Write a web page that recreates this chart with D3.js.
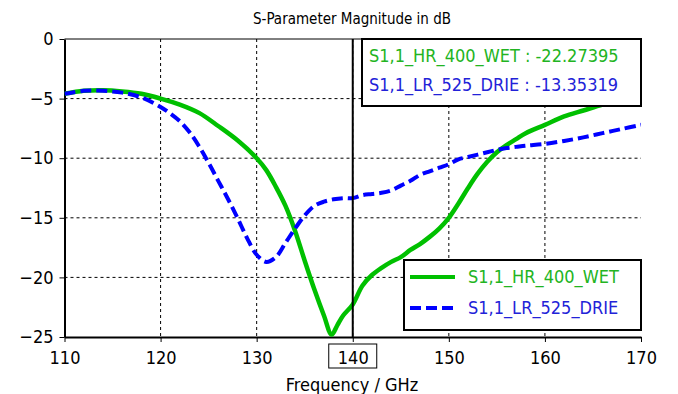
<!DOCTYPE html>
<html>
<head>
<meta charset="utf-8">
<script src="https://cdn.jsdelivr.net/npm/d3@7"></script>
<style>
body { margin: 0; background: #fff; }
svg { display: block; }
</style>
</head>
<body>
<svg id="chart"></svg>
<script>
var width = 678
var height = 394
var fontFam = "'DejaVu Sans Condensed', 'DejaVu Sans', sans-serif"

// data
var freqHR = [110, 112, 114, 116, 118, 120, 122, 124, 126, 128, 130, 131, 132, 133, 134, 135, 136, 137, 137.8, 138.4, 139, 140,
              141, 142, 143, 144, 145, 146, 147, 148, 149, 150, 151, 152, 153, 154, 155, 156, 157, 158, 160, 162, 164, 166, 168, 170]
var s11HR = [-4.6, -4.35, -4.3, -4.4, -4.6, -5.0, -5.5, -6.2, -7.3, -8.5, -10.0, -11.0, -12.4, -14.0, -16.1, -18.6, -21.0, -23.2, -24.8, -24.0, -23.2, -22.27,
             -20.7, -19.8, -19.2, -18.7, -18.3, -17.7, -17.2, -16.6, -15.9, -15.0, -13.8, -12.5, -11.3, -10.3, -9.5, -8.9, -8.4, -7.9, -7.2, -6.5, -6.0, -5.5, -5.1, -4.8]

var freqLR = [110, 112, 114, 116, 118, 120, 121, 122, 123, 124, 125, 126, 127, 128, 129, 130, 131, 132, 133, 134, 135, 136, 137, 138, 139, 140,
              141, 142, 143, 144, 145, 146, 147, 148, 149, 150, 151, 152, 153, 154, 155, 156, 157, 158, 160, 162, 164, 166, 168, 170]
var s11LR = [-4.6, -4.35, -4.35, -4.5, -4.9, -5.7, -6.25, -6.9, -7.8, -9.0, -10.4, -11.9, -13.4, -15.0, -16.7, -18.1, -18.7, -18.3, -17.1, -15.9, -14.8, -14.0, -13.65, -13.45, -13.35, -13.35,
             -13.1, -13.0, -12.9, -12.7, -12.3, -11.9, -11.4, -11.1, -10.8, -10.5, -10.1, -9.9, -9.7, -9.5, -9.3, -9.15, -9.05, -8.95, -8.8, -8.55, -8.25, -7.9, -7.55, -7.2]

var seriesNames = ["S1,1_HR_400_WET", "S1,1_LR_525_DRIE"]
var markerFreq = 140
var markerValues = ["-22.27395", "-13.35319"]
var xTicks = [110, 120, 130, 140, 150, 160, 170]
var yTicks = [0, -5, -10, -15, -20, -25]

var greenCol = "#00c000"
var blueCol = "#0000ff"

var svg = d3.select("#chart").attr("width", width).attr("height", height)
svg.append("rect").attr("width", width).attr("height", height).attr("fill", "#fff")

var x = d3.scaleLinear().domain([110, 170]).range([64.5, 641])
var y = d3.scaleLinear().domain([-25, 0]).range([337, 39])

// title
svg.append("text")
    .attr("x", 352).attr("y", 24)
    .attr("text-anchor", "middle")
    .attr("font-family", fontFam).attr("font-size", "15px")
    .text("S-Parameter Magnitude in dB")

// grid
xTicks.slice(1, -1).forEach(function(t) {
    svg.append("line")
        .attr("x1", x(t)).attr("x2", x(t)).attr("y1", y(0)).attr("y2", y(-25))
        .attr("stroke", "#000").attr("stroke-width", 1).attr("stroke-dasharray", "3,3")
})
yTicks.slice(1, -1).forEach(function(t) {
    svg.append("line")
        .attr("x1", x(110)).attr("x2", x(170)).attr("y1", y(t)).attr("y2", y(t))
        .attr("stroke", "#000").attr("stroke-width", 1).attr("stroke-dasharray", "3,3")
})
// top line
svg.append("line")
    .attr("x1", x(110)).attr("x2", x(170)).attr("y1", y(0)).attr("y2", y(0))
    .attr("stroke", "#000").attr("stroke-width", 1)

// axes
var xAxis = svg.append("g").attr("transform", "translate(0," + y(-25) + ")")
    .call(d3.axisBottom(x).tickValues(xTicks).tickSize(5).tickSizeOuter(0).tickPadding(9))
var yAxis = svg.append("g").attr("transform", "translate(" + x(110) + ",0)")
    .call(d3.axisLeft(y).tickValues(yTicks).tickSize(5).tickSizeOuter(0).tickPadding(6))
;[xAxis, yAxis].forEach(function(a) {
    a.select(".domain").attr("stroke-width", 2)
    a.selectAll("text").attr("font-family", fontFam).attr("font-size", "18px").attr("fill", "#000")
})

svg.append("text")
    .attr("x", 352).attr("y", 391)
    .attr("text-anchor", "middle")
    .attr("font-family", fontFam).attr("font-size", "18px")
    .text("Frequency / GHz")

// curves
svg.append("clipPath").attr("id", "plotclip")
    .append("rect").attr("x", x(110)).attr("y", y(0) - 3).attr("width", x(170) - x(110)).attr("height", y(-25) - y(0) + 3)

var line = d3.line()
    .x(function(d) { return x(d[0]) })
    .y(function(d) { return y(d[1]) })
    .curve(d3.curveCatmullRom.alpha(0.5))

svg.append("path")
    .datum(d3.zip(freqHR, s11HR))
    .attr("clip-path", "url(#plotclip)")
    .attr("d", line)
    .attr("fill", "none").attr("stroke", greenCol).attr("stroke-width", 4.5)

svg.append("path")
    .datum(d3.zip(freqLR, s11LR))
    .attr("clip-path", "url(#plotclip)")
    .attr("d", line)
    .attr("fill", "none").attr("stroke", blueCol).attr("stroke-width", 4)
    .attr("stroke-dasharray", "11,5")

// marker
svg.append("line")
    .attr("x1", x(markerFreq)).attr("x2", x(markerFreq)).attr("y1", y(0)).attr("y2", y(-25))
    .attr("stroke", "#000").attr("stroke-width", 2)
svg.append("rect")
    .attr("x", x(markerFreq) - 24).attr("y", 344).attr("width", 48).attr("height", 24)
    .attr("fill", "none").attr("stroke", "#000").attr("stroke-width", 1)

// marker value box
svg.append("rect")
    .attr("x", 362).attr("y", 39).attr("width", 279).attr("height", 67)
    .attr("fill", "#fff").attr("stroke", "#000").attr("stroke-width", 2)
var textCols = ["#22b422", "#2222d8"]
seriesNames.forEach(function(n, i) {
    svg.append("text")
        .attr("x", 369).attr("y", 62 + i * 29)
        .attr("font-family", fontFam).attr("font-size", "18px")
        .attr("fill", textCols[i])
        .text(n + " : " + markerValues[i])
})

// legend
svg.append("rect")
    .attr("x", 404).attr("y", 260).attr("width", 237).attr("height", 70)
    .attr("fill", "#fff").attr("stroke", "#000").attr("stroke-width", 2)
seriesNames.forEach(function(n, i) {
    var ly = 277 + i * 31
    svg.append("line")
        .attr("x1", 410).attr("x2", 455).attr("y1", ly).attr("y2", ly)
        .attr("stroke", i == 0 ? greenCol : blueCol).attr("stroke-width", 4)
        .attr("stroke-dasharray", i == 0 ? null : "11,5")
    svg.append("text")
        .attr("x", 468).attr("y", ly + 6)
        .attr("font-family", fontFam).attr("font-size", "18px")
        .attr("fill", textCols[i])
        .text(n)
})
</script>
</body>
</html>
